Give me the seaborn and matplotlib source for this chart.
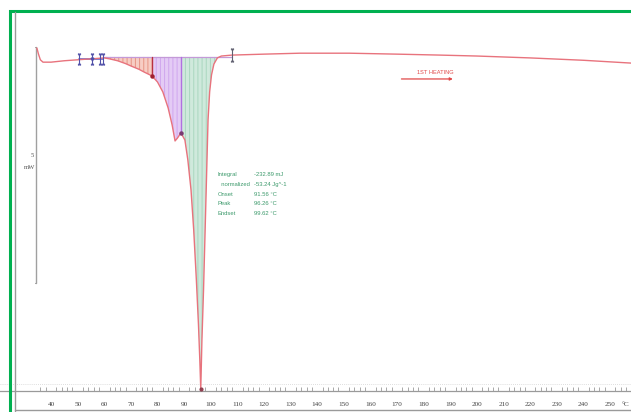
import numpy as np
import pandas as pd
import matplotlib
matplotlib.use("Agg")
import matplotlib.pyplot as plt
from matplotlib.patches import Rectangle
from matplotlib.lines import Line2D
import seaborn as sns

# DSC curve (temperature in degC, heat flow in mW, baseline = 0)
temperature = [34.7, 35.3, 36.0, 37.0, 40.0, 45.0, 50.0, 55.0, 60.0, 62.0, 65.0,
               68.0, 70.0, 73.0, 75.0, 77.9, 80.0, 82.0, 84.0, 85.5, 86.6, 87.5,
               88.8, 90.3, 91.4, 92.6, 93.6, 94.6, 95.4, 95.9, 96.26, 96.7, 97.3,
               97.9, 98.5, 99.0, 99.6, 100.3, 101.2, 102.5, 104.0, 108.0, 120.0,
               133.5, 152.0, 170.0, 186.0, 200.0, 220.0, 240.0, 258.0]
heat_flow = [0.19, 0.06, -0.06, -0.11, -0.11, -0.08, -0.06, -0.04, -0.02, -0.04, -0.08,
             -0.14, -0.19, -0.26, -0.32, -0.40, -0.53, -0.74, -1.08, -1.44, -1.78, -1.72,
             -1.61, -1.76, -2.18, -2.82, -3.66, -4.72, -5.68, -6.42, -7.05, -6.00, -4.94,
             -3.67, -2.39, -1.33, -0.74, -0.38, -0.15, -0.02, 0.02, 0.04, 0.06,
             0.08, 0.08, 0.06, 0.04, 0.02, -0.02, -0.07, -0.13]

# integration regions (start, end) and their colours
region_edges = [60.0, 77.9, 88.8, 103.5]
region_fill = ["#f7cdc4", "#e4cbf5", "#cfe9dc"]
region_hatch = ["#e69484", "#cfa6ee", "#a9d7bf"]

# evaluation marks
baseline_marks = [50.5, 55.4, 58.4, 59.5]
end_mark = 108.0

x_ticks = list(range(40, 251, 10))

result_labels = ["Integral", "  normalized", "Onset", "Peak", "Endset"]
result_values = ["-232.89 mJ", "-53.24 Jg^-1", "91.56 \u00b0C", "96.26 \u00b0C", "99.62 \u00b0C"]

df = pd.DataFrame({"T": temperature, "HF": heat_flow})

sns.set_theme(style="white")
plt.rcParams["font.family"] = ["Liberation Serif", "DejaVu Sans"]
plt.rcParams["hatch.linewidth"] = 0.7

W, H = 631, 412
fig = plt.figure(figsize=(W / 100, H / 100), dpi=100)
fig.patch.set_facecolor("white")

# axes: left edge x=0px, right edge x=631px, top y=0px, axis line at y=391px
ax = fig.add_axes([0, 21 / H, 1, 391 / H])
px_per_deg = 2.662
ax.set_xlim(40 - 51 / px_per_deg, 40 + (W - 51) / px_per_deg)
ax.set_ylim(-7.08, 57 / 47.2)
ax.set_facecolor("none")

# filled integration regions
T = np.array(temperature)
HF = np.array(heat_flow)
fine_T = np.linspace(region_edges[0], region_edges[-1], 600)
fine_HF = np.interp(fine_T, T, HF)
for i in range(3):
    m = (fine_T >= region_edges[i]) & (fine_T <= region_edges[i + 1])
    ax.fill_between(fine_T[m], fine_HF[m], 0, facecolor=region_fill[i],
                    edgecolor=region_hatch[i], hatch="||||", linewidth=0, zorder=1)

# integration baseline
ax.plot([region_edges[0], end_mark], [0, 0], color="#c49ad8", lw=0.9, zorder=2)
ax.plot([baseline_marks[0], baseline_marks[-1]], [-0.04, -0.04], color="#6a6ac8", lw=1.2, zorder=3)

# the curve
sns.lineplot(data=df, x="T", y="HF", sort=False, estimator=None, color="#e8737d",
             linewidth=1.0, ax=ax, zorder=4)

# split lines at the partial areas
y1 = np.interp(region_edges[1], T, HF)
y2 = np.interp(region_edges[2], T, HF)
ax.plot([region_edges[1]] * 2, [0, y1], color="#b83040", lw=1.0, zorder=5)
ax.plot(region_edges[1], y1, "o", ms=2.2, color="#a02030", zorder=6)
ax.plot([region_edges[2]] * 2, [0, y2], color="#b070e0", lw=1.0, zorder=5)
ax.plot(region_edges[2], y2, "o", ms=2.2, color="#7a3a70", zorder=6)
ax.plot(96.26, -7.03, "o", ms=2, color="#904050", zorder=6)

# limit marks
for t in baseline_marks:
    ax.plot([t, t], [0.07, -0.15], color="#5050a8", lw=0.8, zorder=6)
    ax.plot(t, 0.05, marker=7, ms=1.8, color="#5050a8", zorder=6)
    ax.plot(t, -0.13, marker=6, ms=1.8, color="#5050a8", zorder=6)
ax.plot(baseline_marks[1], -0.04, marker="v", ms=2, color="#5050a8", zorder=6)
ax.plot([end_mark, end_mark], [0.17, -0.08], color="#606070", lw=0.8, zorder=6)
ax.plot(end_mark, 0.14, marker=7, ms=1.8, color="#606070", zorder=6)
ax.plot(end_mark, -0.06, marker=6, ms=1.8, color="#606070", zorder=6)

# result box
for i, (lab, val) in enumerate(zip(result_labels, result_values)):
    yy = (57 - (175 + i * 9.6)) / 47.2
    ax.text(102.6, yy, lab, fontsize=4.2, color="#3d9a6c", va="center", ha="left",
            family=["Liberation Sans", "DejaVu Sans"])
    ax.text(116.1, yy, val, fontsize=4.2, color="#3d9a6c", va="center", ha="left",
            family=["Liberation Sans", "DejaVu Sans"])

# heating label
ax.text(184.3, (57 - 73) / 47.2, "1ST HEATING", fontsize=4.1, color="#e04848",
        ha="center", va="center", family=["Liberation Sans", "DejaVu Sans"])
ax.annotate("", xy=(192.0, (57 - 79) / 47.2), xytext=(170.6, (57 - 79) / 47.2),
            arrowprops=dict(arrowstyle="-|>", color="#e04848", lw=0.9,
                            mutation_scale=4))

# 5 mW scale bar
sb_x = 40 + (36 - 51) / px_per_deg
ax.plot([sb_x, sb_x], [0.21, 0.21 - 5], color="#a0a0a0", lw=1.0, zorder=3)
ax.plot([sb_x - 0.5, sb_x], [0.21, 0.21], color="#a0a0a0", lw=0.8)
ax.plot([sb_x - 0.5, sb_x], [-4.79, -4.79], color="#a0a0a0", lw=0.8)
ax.text(sb_x - 0.8, (57 - 156) / 47.2, "5", fontsize=4.8, color="#555555", ha="right", va="center")
ax.text(sb_x - 0.4, (57 - 168) / 47.2, "mW", fontsize=4.8, color="#555555", ha="right", va="center")

# faint dotted line above the axis
ax.axhline((57 - 384) / 47.2, color="#d4d4d4", lw=0.6, ls=(0, (1, 1.5)), zorder=0)

# x axis
for s in ["top", "right", "left"]:
    ax.spines[s].set_visible(False)
ax.spines["bottom"].set_color("#9a9a9a")
ax.spines["bottom"].set_linewidth(0.9)
ax.set_xticks(x_ticks)
ax.set_xticks(np.arange(36, 258, 2), minor=True)
ax.tick_params(axis="x", which="major", direction="in", length=4.5, width=0.7,
               color="#8a8a8a", labelsize=5.2, labelcolor="#444444", pad=8)
ax.tick_params(axis="x", which="minor", direction="in", length=3.2, width=0.6,
               color="#9a9a9a", bottom=True)
ax.tick_params(axis="y", left=False, labelleft=False)
ax.set_xlabel("")
ax.set_ylabel("")
fig.text(622 / W, 1 - 405 / H, "\u00b0C", fontsize=5.2, color="#444444", ha="left", va="center")

# gray inner frame and green outer border
fig.add_artist(Line2D([15 / W, 15 / W], [0, 1 - 12 / H], color="#9a9a9a", lw=1.0))
fig.add_artist(Line2D([15 / W, 1], [1 - 410 / H] * 2, color="#9a9a9a", lw=1.0))
fig.add_artist(Rectangle((10 / W, -0.05), 1.1, 1 - 10.5 / H + 0.05, fill=False,
                         edgecolor="#00b050", lw=2.2, transform=fig.transFigure))

fig.savefig("out.png", dpi=100)
